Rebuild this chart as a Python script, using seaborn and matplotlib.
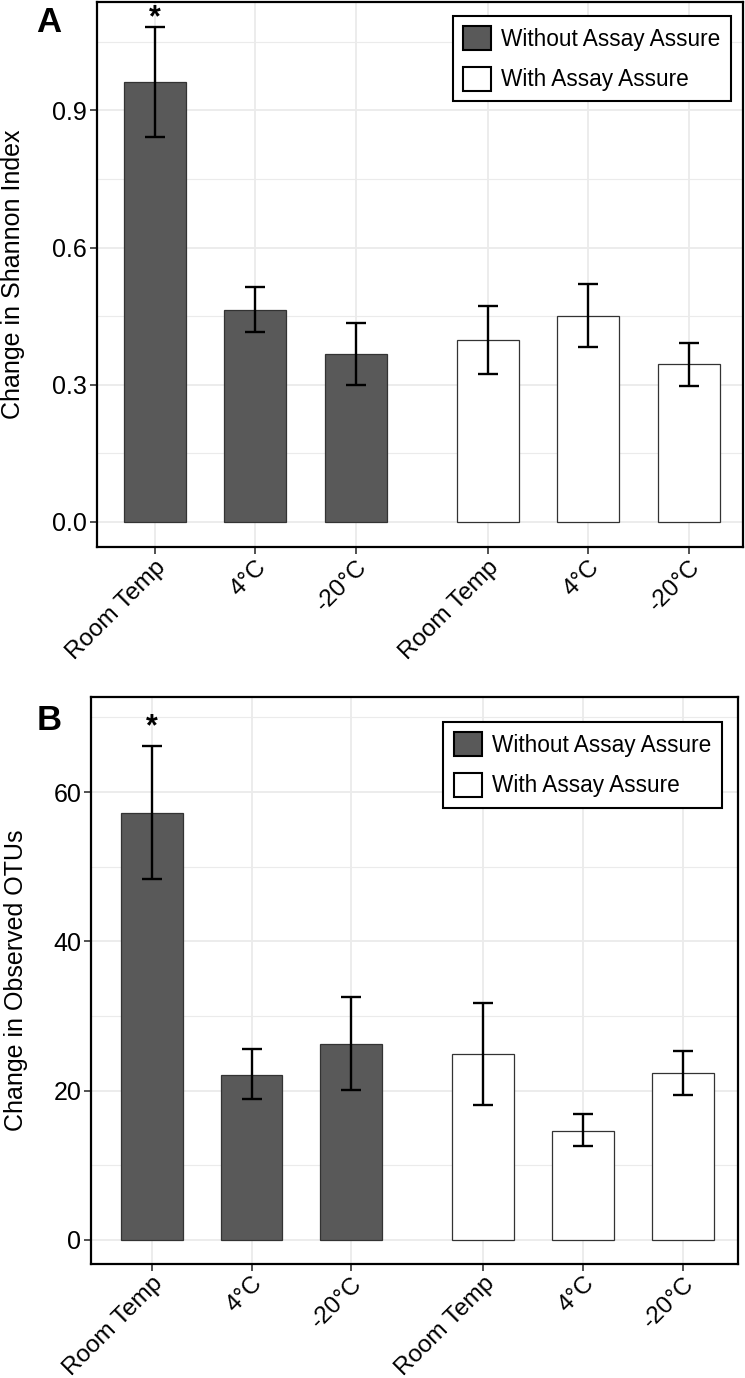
import matplotlib
matplotlib.use("Agg")
import matplotlib.pyplot as plt
import seaborn as sns
import pandas as pd
from matplotlib.ticker import MultipleLocator, FormatStrFormatter

sns.set_theme(style="white")
plt.rcParams["font.family"] = ["Liberation Sans", "DejaVu Sans"]
plt.rcParams["text.color"] = "black"
plt.rcParams["axes.labelcolor"] = "black"
plt.rcParams["xtick.color"] = "black"
plt.rcParams["ytick.color"] = "black"

# data
conditions = ["Room Temp", "4°C", "-20°C", "Room Temp", "4°C", "-20°C"]
groups = ["Without Assay Assure"] * 3 + ["With Assay Assure"] * 3

shannon = [0.962, 0.464, 0.367, 0.398, 0.451, 0.345]
shannon_lo = [0.841, 0.415, 0.300, 0.323, 0.382, 0.298]
shannon_hi = [1.083, 0.514, 0.434, 0.473, 0.521, 0.391]

otus = [57.2, 22.1, 26.3, 24.9, 14.6, 22.4]
otus_lo = [48.4, 18.8, 20.1, 18.0, 12.5, 19.4]
otus_hi = [66.2, 25.5, 32.5, 31.7, 16.9, 25.3]

palette = {"Without Assay Assure": "#595959", "With Assay Assure": "white"}

# bar positions: two groups of three with a wider gap between them
gap = 0.32
xpos = [i + (gap if i >= 3 else 0) for i in range(len(conditions))]

fig = plt.figure(figsize=(7.45, 13.78), dpi=100)
axA = fig.add_axes([0.130, 0.603, 0.867, 0.3955])
axB = fig.add_axes([0.122, 0.083, 0.868, 0.411])


def draw(ax, vals, lo, hi, ylabel, ylim, major, minor, fmt, xlim,
         star_off, label_x, leg_anchor):
    df = pd.DataFrame({"x": xpos, "value": vals, "group": groups})
    sns.barplot(data=df, x="x", y="value", hue="group", palette=palette,
                native_scale=True, dodge=False, width=0.62, errorbar=None,
                edgecolor="#333333", linewidth=0.9, ax=ax, zorder=2)
    yerr = [[v - l for v, l in zip(vals, lo)], [h - v for v, h in zip(vals, hi)]]
    ax.errorbar(xpos, vals, yerr=yerr, fmt="none", ecolor="black",
                elinewidth=1.7, capsize=7, capthick=1.7, zorder=3)
    # significance star over the first bar
    ax.annotate("*", (xpos[0], hi[0]), xytext=(0, star_off),
                textcoords="offset points", ha="center", va="center",
                fontsize=22, fontweight="bold")

    ax.set_xlim(*xlim)
    ax.set_ylim(*ylim)
    ax.set_xticks(xpos)
    ax.set_xticklabels(conditions, rotation=45, ha="right",
                       rotation_mode="anchor", fontsize=17.5)
    ax.yaxis.set_major_locator(MultipleLocator(major))
    ax.yaxis.set_minor_locator(MultipleLocator(minor))
    ax.yaxis.set_major_formatter(FormatStrFormatter(fmt))
    ax.tick_params(axis="y", labelsize=18, pad=2)
    ax.tick_params(axis="x", pad=1.5)
    ax.tick_params(axis="both", which="major", length=5, width=1.2,
                   color="#333333", direction="out", bottom=True, left=True)
    ax.tick_params(axis="y", which="minor", length=0)

    ax.set_axisbelow(True)
    ax.grid(True, which="major", color="#EBEBEB", linewidth=1.3, zorder=0)
    ax.grid(True, which="minor", axis="y", color="#EBEBEB", linewidth=0.8, zorder=0)
    for s in ax.spines.values():
        s.set_visible(True)
        s.set_color("black")
        s.set_linewidth(1.6)

    ax.set_xlabel("")
    ax.set_ylabel(ylabel, fontsize=18)
    ax.yaxis.set_label_coords(label_x, 0.5)

    handles, labels = ax.get_legend_handles_labels()
    leg = ax.legend(handles, labels, loc="upper right", bbox_to_anchor=leg_anchor,
                    fontsize=16.3, frameon=True, fancybox=False,
                    edgecolor="black", framealpha=1, handlelength=1.25,
                    handleheight=1.25, borderpad=0.45, labelspacing=0.7,
                    handletextpad=0.45, borderaxespad=0)
    leg.get_frame().set_linewidth(1.5)
    for h in leg.legend_handles:
        h.set_edgecolor("black")
        h.set_linewidth(1.5)


draw(axA, shannon, shannon_lo, shannon_hi, "Change in Shannon Index",
     (-0.055, 1.137), 0.3, 0.15, "%.1f", (-0.58, 5.86),
     6, -0.112, (1 - 12 / 646, 1 - 14 / 545))
draw(axB, otus, otus_lo, otus_hi, "Change in Observed OTUs",
     (-3.2, 72.7), 20, 10, "%d", (-0.61, 5.87),
     13, -0.098, (1 - 16 / 647, 1 - 25 / 566))

fig.text(0.066, 1 - 22 / 1378, "A", fontsize=25, fontweight="bold",
         ha="center", va="center")
fig.text(0.066, 1 - 720 / 1378, "B", fontsize=25, fontweight="bold",
         ha="center", va="center")

fig.savefig("out.png", dpi=100)
